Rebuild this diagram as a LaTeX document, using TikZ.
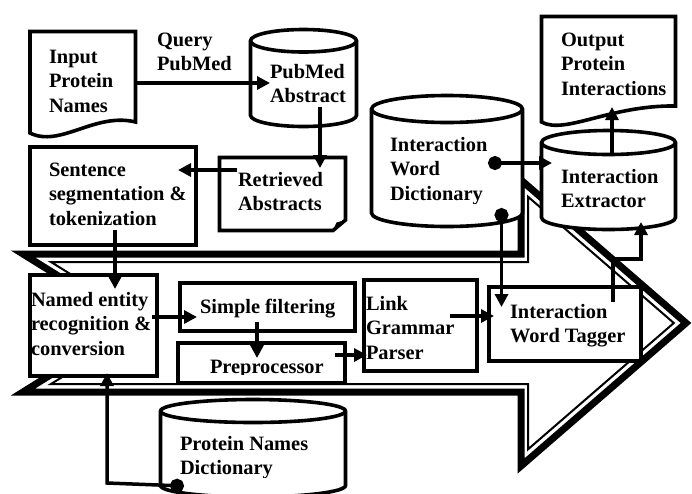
\documentclass[tikz,border=0pt]{standalone}
\usepackage{fontspec}
\setmainfont{Liberation Serif}
\usetikzlibrary{arrows.meta}
\newcommand\drawcyl[5]{%
 \pgfmathsetmacro\cylrx{(#2-#1)/2}%
 \draw[shp] (#1,#3+#4) -- (#1,#5-#4) arc[start angle=180,end angle=0,x radius=\cylrx,y radius=#4] -- (#2,#3+#4) arc[start angle=0,end angle=-180,x radius=\cylrx,y radius=#4] -- cycle;
 \draw[shp,fill=none] (#1,#3+#4) arc[start angle=180,end angle=0,x radius=\cylrx,y radius=#4];}
\tikzset{
 shp/.style={line width=3.6pt, fill=white, line join=miter},
 box/.style={draw, line width=3.8pt, fill=white, inner sep=0pt, outer sep=0pt, anchor=north west},
 lbl/.style={font=\fontsize{20.4}{24.5}\selectfont\bfseries, align=left, inner sep=0pt, outer sep=0pt, anchor=north west},
 conn/.style={line width=3.5pt, -{Triangle[length=13pt,width=13pt]}},
 dotconn/.style={line width=3.5pt, {Circle[length=14pt,width=14pt]}-{Triangle[length=13pt,width=13pt]}}
}
\begin{document}
\begin{tikzpicture}[x=1pt,y=-1pt]
\useasboundingbox (0,0) rectangle (692,493);
\clip (0,0) rectangle (692,493);
% big block arrow
\draw[line width=7pt, line join=miter, miter limit=20] (23,254) -- (521,254) -- (521,180) -- (686,323) -- (521,466) -- (521,392) -- (23,392) -- (134,323) -- cycle;
\draw[line width=2pt, line join=miter] (51,262) -- (528,262) -- (528,196.7) -- (673.8,323) -- (528,449.3) -- (528,384) -- (51,384) -- (149.1,323) -- cycle;
% documents
\draw[shp] (30,31.5) -- (135.5,31.5) -- (135.5,122) .. controls (95,112) and (60,148) .. (30,133) -- cycle;
\draw[shp] (541.5,16.5) -- (675.5,16.5) -- (675.5,106) .. controls (610,105) and (565,135) .. (541.5,122) -- cycle;
\draw[shp] (219.5,157.5) -- (345.5,157.5) -- (345.5,220) -- (333,230.5) -- (219.5,230.5) -- cycle;
\fill (333,230.5) -- (336.5,222.5) -- (345.5,220) -- cycle;
% cylinders
\drawcyl{250.5}{356.5}{29.5}{11.25}{126.5}
\drawcyl{371.5}{522.5}{95.5}{13.5}{226.5}
\drawcyl{541.5}{675.5}{130.5}{12}{229.5}
\drawcyl{160.5}{345.5}{399.5}{11.5}{497}
% boxes
\node[box, minimum width=166pt, minimum height=98pt] (sent) at (30,147) {};
\node[box, minimum width=127pt, minimum height=101pt] (named) at (30,275) {};
\node[box, minimum width=175pt, minimum height=48pt] (simple) at (180,283) {};
\node[box, minimum width=167pt, minimum height=40pt] (prep) at (178,343) {};
\node[box, minimum width=113pt, minimum height=91pt] (link) at (364,280) {};
\node[box, minimum width=152pt, minimum height=74pt] (tagger) at (489,287) {};
% texts
\node[lbl] (tQuery) at (157,28.85) {\strut Query\\PubMed};
\node[lbl] (tInput) at (49,45.85) {\strut Input\\Protein\\Names};
\node[lbl] (tPub) at (270,60.85) {\strut PubMed\\Abstract};
\node[lbl] (tRet) at (238,168.85) {\strut Retrieved\\Abstracts};
\node[lbl] (tSent) at (49,158.85) {\strut Sentence\\segmentation \&\\tokenization};
\node[lbl] (tNamed) at (31,288.85) {\strut Named entity\\recognition \&\\conversion};
\node[lbl] (tSimple) at (200,295.85) {\strut Simple filtering};
\begin{scope}
\clip (180,345) rectangle (343,374);
\node[lbl] (tPre) at (210,355.85) {\strut Preprocessor};
\end{scope}
\node[lbl] (tLink) at (366,292.85) {\strut Link\\Grammar\\Parser};
\node[lbl] (tTag) at (510,300.85) {\strut Interaction\\Word Tagger};
\begin{scope}
\clip (375,100) rectangle (520,203);
\node[lbl] (tDict) at (390,133.85) {\strut Interaction\\Word\\Dictionary};
\end{scope}
\node[lbl] (tExt) at (561,165.85) {\strut Interaction\\Extractor};
\node[lbl] (tOut) at (561,28.85) {\strut Output\\Protein\\Interactions};
\begin{scope}
\clip (165,425) rectangle (340,477);
\node[lbl] (tPnd) at (180,432.85) {\strut Protein Names\\Dictionary};
\end{scope}
% connector end points
\coordinate (inpOut) at (137,83);   \coordinate (pubIn) at (270,83);
\coordinate (pubOut) at (320,107);  \coordinate (retIn) at (320,168);
\coordinate (retOut) at (237,170);  \coordinate (sentIn) at (178,170);
\coordinate (sentOut) at (115,230); \coordinate (namedIn) at (115,289);
\coordinate (namedOut) at (152,317);\coordinate (simpleIn) at (197,317);
\coordinate (simpleOut) at (257,322);\coordinate (prepIn) at (257,358);
\coordinate (prepOut) at (335,355); \coordinate (linkIn) at (367,355);
\coordinate (linkOut) at (450,316); \coordinate (tagIn) at (494,316);
\coordinate (dictOutA) at (488,163);\coordinate (extIn) at (552,163);
\coordinate (dictOutB) at (501.5,208);\coordinate (tagInB) at (501.5,307);
\coordinate (extOut) at (612,153);  \coordinate (outIn) at (612,107);
\coordinate (tagOut) at (613,302);  \coordinate (bendA) at (613,259);
\coordinate (bendB) at (641,259);   \coordinate (extInB) at (641,222);
\coordinate (pndOut) at (184,486);  \coordinate (bendC) at (107,483);
\coordinate (namedInB) at (107,373);
% connectors
\draw[conn] (inpOut) -- (pubIn);
\draw[conn] (pubOut) -- (retIn);
\draw[conn] (retOut) -- (sentIn);
\draw[conn] (sentOut) -- (namedIn);
\draw[conn] (namedOut) -- (simpleIn);
\draw[conn] (simpleOut) -- (prepIn);
\draw[conn] (prepOut) -- (linkIn);
\draw[conn] (linkOut) -- (tagIn);
\draw[dotconn] (dictOutA) -- (extIn);
\draw[dotconn] (dictOutB) -- (tagInB);
\draw[conn] (extOut) -- (outIn);
\draw[conn] (tagOut) -- (bendA) -- (bendB) -- (extInB);
\draw[dotconn] (pndOut) -- (bendC) -- (namedInB);
\end{tikzpicture}
\end{document}
